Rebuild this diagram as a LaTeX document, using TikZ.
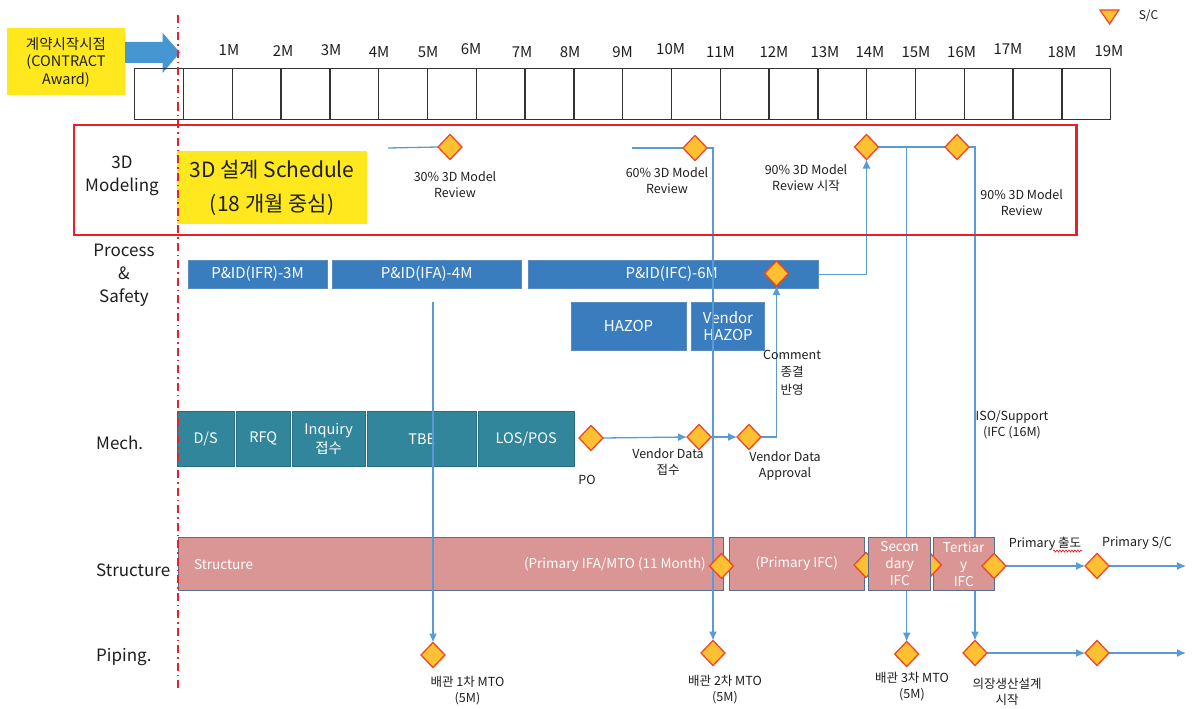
\documentclass[tikz,border=0pt]{standalone}
\usepackage{fontspec}
\setmainfont{Noto Sans CJK KR}
\usetikzlibrary{shapes.geometric,arrows.meta,decorations.pathmorphing}
\definecolor{pblue}{RGB}{58,125,190}
\definecolor{pblueB}{RGB}{90,140,190}
\definecolor{mteal}{RGB}{49,134,155}
\definecolor{mtealB}{RGB}{40,110,130}
\definecolor{spink}{RGB}{217,150,148}
\definecolor{spinkB}{RGB}{85,110,145}
\definecolor{lblue}{RGB}{91,155,213}
\definecolor{dyel}{RGB}{255,192,50}
\definecolor{dred}{RGB}{240,70,40}
\definecolor{ybox}{RGB}{255,232,30}
\definecolor{rline}{RGB}{232,32,42}
\definecolor{arrblue}{RGB}{70,150,210}
\definecolor{txt}{RGB}{30,30,30}
\newcommand{\myfs}[2]{\fontsize{#1}{#2}\selectfont}
\pgfdeclarelayer{bgpaper}
\pgfdeclarelayer{bg}
\pgfdeclarelayer{mid}
\pgfdeclarelayer{front}
\pgfsetlayers{bgpaper,bg,mid,main,front}
\tikzset{
  lbl/.style={font=\myfs{12.5}{16}, align=center, inner sep=0pt, text=txt},
  side/.style={font=\myfs{17}{23}, align=center, inner sep=0pt, text=txt},
  mon/.style={font=\myfs{15}{18}, inner sep=0pt, text=txt},
  pbox/.style={draw=pblueB, fill=pblue, text=white, font=\myfs{15}{17}, align=center, inner sep=0pt, outer sep=0pt, line width=0.8pt},
  mbox/.style={draw=mtealB, fill=mteal, text=white, font=\myfs{14.5}{19}, align=center, inner sep=0pt, outer sep=0pt, line width=0.6pt, minimum height=54.3pt},
  sbox/.style={draw=spinkB, fill=spink, text=white, font=\myfs{13.5}{17}, align=center, inner sep=0pt, outer sep=0pt, line width=1pt, minimum height=53.5pt},
  stxt/.style={text=white, font=\myfs{13.5}{17}, inner sep=0pt},
  dia/.style={diamond, draw=dred, fill=dyel, line width=1.3pt, minimum width=24pt, minimum height=25pt, inner sep=0pt, outer sep=0pt},
  conn/.style={draw=lblue, line width=1.3pt},
  arr/.style={conn, -{Latex[length=9pt,width=8pt]}},
  gridline/.style={draw=black!80, line width=1.3pt},
}
\begin{document}
\begin{tikzpicture}[x=1pt,y=-1pt]
\begin{pgfonlayer}{bgpaper}
\fill[white] (0,0) rectangle (1192,709);
\end{pgfonlayer}
\useasboundingbox (0,0) rectangle (1192,709);

% contract award
\node[fill=ybox, minimum width=118pt, minimum height=67pt, inner sep=0pt, font=\myfs{14.5}{17.5}, align=center, text=txt] (award) at (66,62) {계약시작시점\\(CONTRACT\\Award)};
\fill[arrblue] (125,42) -- (162.6,42) -- (162.6,33) -- (180,52.5) -- (162.6,73) -- (162.6,63) -- (125,63) -- cycle;

% months
\foreach \x/\y/\t [count=\i] in {229/50/1M,283/51/2M,331/50/3M,379/52/4M,428/52/5M,471/49/6M,522/52/7M,570/52/8M,622.6/52/9M,670.6/49/10M,720.5/52/11M,774/52/12M,825/52/13M,870/52/14M,916/52/15M,961.6/52/16M,1008/49/17M,1062/52.5/18M,1109/51/19M}
  \node[mon] (mon\i) at (\x,\y) {\t};
\draw[gridline] (134.7,68.5) rectangle (1110.7,119.3);
\foreach \i in {1,...,19} \draw[gridline] ({134.7+48.8*\i},68.5) -- ({134.7+48.8*\i},119.3);

% legend
\filldraw[fill=dyel, draw=dred, line width=1.2pt] (1100,10) -- (1119,10) -- (1109.5,24) -- cycle;
\node[font=\myfs{12}{14}, inner sep=0pt, text=txt] (legsc) at (1148.5,16) {S/C};

% 3D modeling band
\draw[rline, line width=2.5pt] (74,125) rectangle (1076.7,235);
\node[fill=ybox, minimum width=190pt, minimum height=73pt, inner sep=0pt, font=\myfs{21}{34}, align=center, text=txt] (sched) at (272,187.5) {3D 설계 Schedule\\(18 개월 중심)};

% side labels
\node[side] (l3d) at (122,176) {3D\\Modeling};
\node[side] (lproc) at (124,275) {Process\\\&\\Safety};
\node[side, anchor=west] (lmech) at (96,443) {Mech.};
\node[side, anchor=west] (lstr) at (96,570) {Structure};
\node[side, anchor=west] (lpip) at (96,657) {Piping.};

% process boxes
\begin{pgfonlayer}{bg}
\node[pbox, minimum width=139pt, minimum height=28.5pt] (ifr) at (257.5,274.3) {P\&ID(IFR)-3M};
\node[pbox, minimum width=189.4pt, minimum height=28.5pt] (ifa) at (426.7,274.3) {P\&ID(IFA)-4M};
\node[pbox, minimum width=290pt, minimum height=28.5pt] (pifc) at (673,274.3) {};
\node[text=white, font=\myfs{15}{17}, inner sep=0pt] (pifct) at (671.7,274.3) {P\&ID(IFC)-6M};
\node[pbox, minimum width=115pt, minimum height=47.3pt] (hazop) at (628.5,326.4) {HAZOP};
\node[pbox, minimum width=72.6pt, minimum height=47.3pt] (vhazop) at (728,326.4) {Vendor\\HAZOP};

% mech boxes
\node[mbox, minimum width=56.7pt] (ds) at (205.7,438.9) {D/S};
\node[mbox, minimum width=54.3pt] (rfq) at (263.2,438.9) {RFQ};
\node[mbox, minimum width=72.7pt] (inq) at (328.7,438.9) {Inquiry\\접수};
\node[mbox, minimum width=109.3pt] (tbe) at (421.7,438.9) {TBE};
\node[mbox, minimum width=95.7pt] (los) at (526.2,438.9) {LOS/POS};

% structure boxes
\node[sbox, minimum width=545pt] (str) at (450.5,564) {};
\node[stxt, anchor=west] (strt) at (194,565) {Structure};
\node[stxt, anchor=east] (strt2) at (706,565) {(Primary IFA/MTO (11 Month)};
\node[sbox, minimum width=134.7pt] (pifc2) at (796.7,564) {(Primary IFC)};
\end{pgfonlayer}

\node[sbox, minimum width=60.7pt] (ter) at (963.7,564) {Tertiar\\y\\IFC};
\node[dia] (s3) at (929.5,565) {};
\node[dia] (s2) at (866,565) {};
\node[sbox, minimum width=62pt] (sec) at (899.7,564) {Secon\\dary\\IFC};
\node[dia] (s1) at (721.5,566) {};
\node[dia] (s4) at (994,566) {};
\node[dia] (sc1) at (1097,566) {};

% milestones
\node[dia] (m30) at (450,147) {};
\node[dia] (m60) at (695,148) {};
\node[dia] (m90a) at (866.5,147) {};
\node[dia] (m90b) at (957,147) {};
\node[dia] (pdia) at (776.5,273.5) {};
\node[dia] (po) at (591,438) {};
\node[dia] (vd1) at (699,437) {};
\node[dia] (vd2) at (749,437) {};
\node[dia] (p1) at (433,655) {};
\node[dia] (p2) at (713,653) {};
\node[dia] (p3) at (906.7,654) {};
\node[dia] (p4) at (975,653) {};
\node[dia] (ps2) at (1097,653) {};

\coordinate (c30) at (388,148);
\coordinate (c60) at (632,148);
\coordinate (cifa) at (433,302);
\coordinate (e1) at (1186,566);
\coordinate (e2) at (1186,653);

% connectors
\begin{pgfonlayer}{mid}
\draw[conn] (c30) -- (m30.west);
\draw[conn] (c60) -- (m60.west);
\draw[arr] (m60.east) -| (p2.north);
\draw[arr] (pifc.east) -| (m90a.south);
\draw[conn] (m90a.east) -- (m90b.west);
\draw[arr] (m90b.east) -| (p4.north);
\draw[arr] (m90a.east -| p3.north) -- (p3.north);
\draw[arr] (cifa) -- (p1.north);
\draw[arr] (po.east) -- (vd1.west);
\draw[arr] (vd1.east) -- (vd2.west);
\draw[arr] (vd2.east) -| (pdia.south);
\draw[arr] (s4.east) -- (sc1.west);
\draw[arr] (sc1.east) -- (e1);
\draw[arr] (p4.east) -- (ps2.west);
\draw[arr] (ps2.east) -- (e2);
\end{pgfonlayer}

% labels
\node[lbl] (t30) at (455,185) {30\% 3D Model\\Review};
\node[lbl] (t60) at (667,180.5) {60\% 3D Model\\Review};
\node[lbl] (t90a) at (806,178.5) {90\% 3D Model\\Review 시작};
\node[lbl] (t90b) at (1021.7,203) {90\% 3D Model\\Review};
\node[lbl, font=\myfs{12.5}{17.5}] (tcom) at (792,372.5) {Comment\\종결\\반영};
\node[lbl] (tpo) at (587,480) {PO};
\node[lbl] (tvd1) at (668,462) {Vendor Data\\접수};
\node[lbl] (tvd2) at (785,466) {Vendor Data\\Approval};
\node[lbl] (tiso) at (1012,424.7) {ISO/Support\\(IFC (16M)};
\node[lbl] (tp1) at (467.5,691) {배관 1차 MTO\\(5M)};
\node[lbl] (tp2) at (725,690) {배관 2차 MTO\\(5M)};
\node[lbl] (tp3) at (912,686.7) {배관 3차 MTO\\(5M)};
\node[lbl] (tp4) at (1007,691.7) {의장생산설계\\시작};
\node[lbl] (tpri) at (1045,543.3) {Primary 출도};
\node[lbl] (tpsc) at (1137,542.7) {Primary S/C};
\draw[rline, line width=0.7pt, decorate, decoration={snake, amplitude=1pt, segment length=3pt}] (1053,551) -- (1082,551);

% contract start line
\begin{pgfonlayer}{front}
\draw[rline, line width=2pt, dash pattern=on 8pt off 4pt on 1.5pt off 4pt] (178,15) -- (178,690);
\end{pgfonlayer}
\end{tikzpicture}
\end{document}
